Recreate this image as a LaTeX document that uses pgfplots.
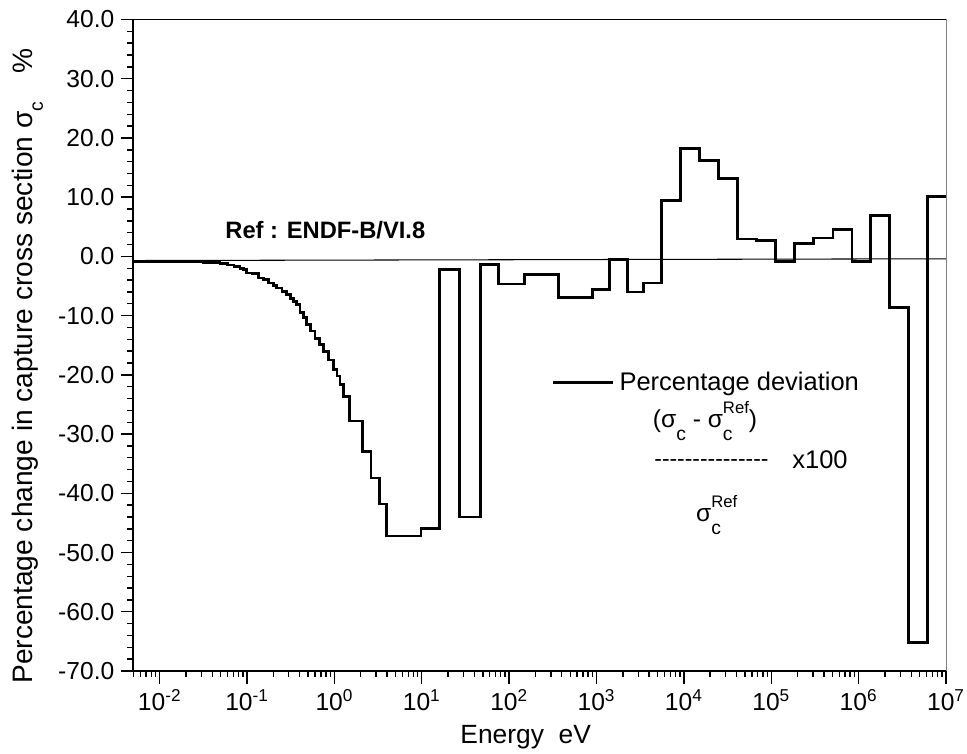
\documentclass[border=0pt]{standalone}
\usepackage{amsmath}
\usepackage{fontspec}
\setmainfont{Liberation Sans}
\usepackage{pgfplots}
\pgfplotsset{compat=1.18}
\usetikzlibrary{calc}

% sigma_c and sigma_c^Ref as drawn in the original figure
\newcommand\sigc{σ\raisebox{-0.5em}{\fontsize{11pt}{13pt}\selectfont c}}
\newcommand\sigcref{σ\rlap{\raisebox{-0.5em}{\fontsize{11pt}{13pt}\selectfont c}}\raisebox{0.6em}{\fontsize{9.5pt}{11pt}\selectfont Ref}}

\begin{document}
\begin{tikzpicture}
\begin{axis}[
    name=ax,
    width=16.26cm, height=13.03cm, scale only axis,
    xmode=log, log basis x=10,
    xmin=0.00495, xmax=1e7,
    ymin=-70, ymax=40,
    axis lines=left,
    axis line style={-, line width=1.1pt},
    tick align=outside,
    major tick length=0.25cm,
    minor tick length=0.12cm,
    every tick/.style={black, line width=0.8pt},
    xtick={1e-2,1e-1,1,1e1,1e2,1e3,1e4,1e5,1e6,1e7},
    xticklabels={10\textsuperscript{-2},10\textsuperscript{-1},10\textsuperscript{0},10\textsuperscript{1},10\textsuperscript{2},10\textsuperscript{3},10\textsuperscript{4},10\textsuperscript{5},10\textsuperscript{6},10\textsuperscript{7}},
    minor xtick={5e-3,6e-3,7e-3,8e-3,9e-3,
        2e-2,3e-2,4e-2,5e-2,6e-2,7e-2,8e-2,9e-2,
        0.2,0.3,0.4,0.5,0.6,0.7,0.8,0.9,
        2,3,4,5,6,7,8,9,
        20,30,40,50,60,70,80,90,
        200,300,400,500,600,700,800,900,
        2e3,3e3,4e3,5e3,6e3,7e3,8e3,9e3,
        2e4,3e4,4e4,5e4,6e4,7e4,8e4,9e4,
        2e5,3e5,4e5,5e5,6e5,7e5,8e5,9e5,
        2e6,3e6,4e6,5e6,6e6,7e6,8e6,9e6},
    ytick={-70,-60,-50,-40,-30,-20,-10,0,10,20,30,40},
    yticklabels={-70.0,-60.0,-50.0,-40.0,-30.0,-20.0,-10.0,0.0,10.0,20.0,30.0,40.0},
    minor y tick num=4,
    tick label style={font=\fontsize{14pt}{16pt}\selectfont},
    xlabel={Energy\ \ eV},
    ylabel={Percentage change in capture cross section σ\raisebox{-0.35em}{\fontsize{11pt}{13pt}\selectfont c}\hspace{1em}\%},
    xlabel style={at={(axis description cs:0.483,-0.1105)}, anchor=base,
        font=\fontsize{15pt}{18pt}\selectfont},
    ylabel style={at={(axis description cs:-0.123,0.468)}, anchor=base,
        font=\fontsize{16pt}{19pt}\selectfont},
    legend style={at={(axis description cs:0.5154,0.4425)}, anchor=west,
        draw=none, fill=none, inner sep=0pt, outer sep=0pt,
        nodes={inner sep=0pt}, column sep=0.094cm,
        font=\fontsize{14.5pt}{17pt}\selectfont},
    legend image code/.code={\draw[#1] (0cm,0cm) -- (1.2cm,0cm);},
    after end axis/.code={
        \draw[line width=0.5pt] (rel axis cs:0,1) -- (rel axis cs:1,1);
        \draw[line width=0.5pt, gray] (rel axis cs:1,1) -- (rel axis cs:1,0);
    },
]

% reference line
\addplot[black, line width=0.6pt, forget plot] coordinates {(0.00495,-0.7) (1e7,-0.4)};

% group-wise deviation (step histogram)
\addplot[black, line width=1.6pt, const plot] coordinates {
    (0.00495,-0.84) (0.01995,-0.86) (0.02512,-0.90) (0.03162,-0.97)
    (0.03981,-1.06) (0.04898,-1.23) (0.06026,-1.45) (0.07079,-1.70)
    (0.08318,-2.00) (0.09120,-2.25) (0.09886,-2.80) (0.1148,-2.95)
    (0.1343,-3.64) (0.1549,-3.90) (0.1750,-4.49) (0.1995,-4.90)
    (0.2183,-5.33) (0.2512,-5.90) (0.2838,-6.46) (0.3162,-7.10)
    (0.3381,-7.60) (0.3715,-8.10) (0.4027,-9.50) (0.4467,-10.3)
    (0.4808,-11.5) (0.5370,-12.6) (0.5984,-13.8) (0.6761,-14.9)
    (0.7447,-16.0) (0.8511,-17.5) (0.9683,-19.1) (1.072,-20.2)
    (1.156,-21.6) (1.262,-23.6) (1.479,-27.8) (2.080,-33.0)
    (2.618,-37.4) (3.258,-41.8) (3.981,-47.2) (9.772,-45.9)
    (16.11,-2.25) (27.29,-44.0) (47.42,-1.4) (74.82,-4.66)
    (151.4,-3.1) (370.7,-6.9) (899.5,-5.6) (1419,-0.56)
    (2265,-6.0) (3475,-4.5) (5546,9.45) (9141,18.2)
    (15210,16.25) (25060,13.2) (41020,2.93) (67760,2.65)
    (111700,-0.84) (185800,2.14) (306200,3.1) (509300,4.5)
    (839500,-0.84) (1.365e6,6.86) (2.270e6,-8.6) (3.741e6,-65.2)
    (6.124e6,10.1) (1e7,10.1)
};
\addlegendentry{Percentage deviation}

\node[anchor=base west, inner sep=0pt, font=\bfseries\fontsize{13.5pt}{16pt}\selectfont]
    at (axis description cs:0.1132,0.6646) {Ref : ENDF-B/VI.8};
\node[anchor=base, inner sep=0pt, font=\fontsize{14pt}{17pt}\selectfont]
    at (axis description cs:0.7036,0.373) {(\sigc{} - \sigcref)};
\node[anchor=base, inner sep=0pt, font=\fontsize{13pt}{15pt}\selectfont]
    at (axis description cs:0.7115,0.3146) {\mbox{-{}-{}-{}-{}-{}-{}-{}-{}-{}-{}-{}-{}-{}-{}-}};
\node[anchor=base, inner sep=0pt, font=\fontsize{14.5pt}{17pt}\selectfont]
    at (axis description cs:0.845,0.3107) {x100};
\node[anchor=base, inner sep=0pt, font=\fontsize{14pt}{17pt}\selectfont]
    at (axis description cs:0.718,0.229) {\sigcref};
\end{axis}
\pgfresetboundingbox
\path ($(ax.south west)+(-2.66cm,-1.64cm)$) rectangle ($(ax.north east)+(0.42cm,0.39cm)$);
\end{tikzpicture}
\end{document}
